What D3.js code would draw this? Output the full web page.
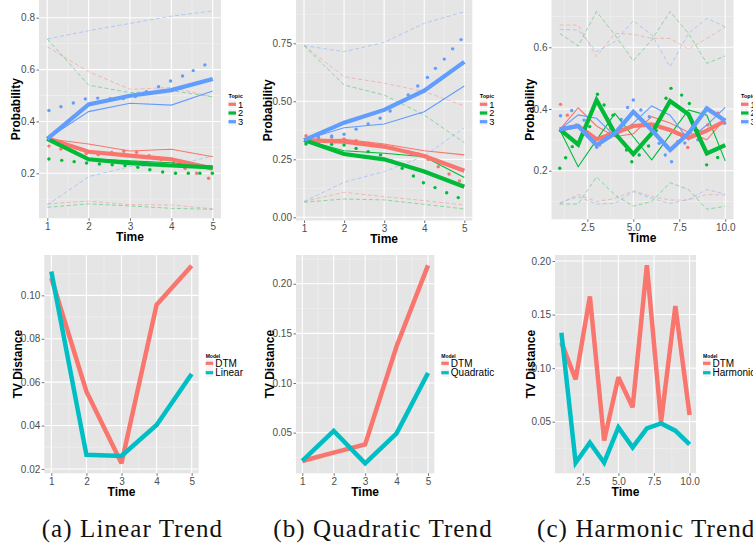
<!DOCTYPE html>
<html>
<head>
<meta charset="utf-8">
<script src="https://cdn.jsdelivr.net/npm/d3@7"></script>
<style>
  body { margin: 0; background: #fff; }
  svg { display: block; }
</style>
</head>
<body>
<script>
// ---------------- data ----------------
const topicLabels = ["1", "2", "3"];
const topicColors = ["#F8766D", "#00BA38", "#619CFF"];
const modelColors = ["#F8766D", "#00BFC4"];

// Linear trend: topic proportions over time (index 0..2 = topic 1..3)
const linearTime = [1, 2, 3, 4, 5];
const linearFit = [
  [0.335, 0.283, 0.268, 0.254, 0.218],
  [0.333, 0.254, 0.239, 0.230, 0.223],
  [0.333, 0.466, 0.499, 0.521, 0.564]
];
const linearDtm = [
  [0.333, 0.313, 0.286, 0.293, 0.264],
  [0.333, 0.256, 0.248, 0.241, 0.226],
  [0.333, 0.438, 0.470, 0.463, 0.517]
];
const linearUpper = [
  [0.688, 0.592, 0.524, 0.531, 0.495],
  [0.718, 0.540, 0.511, 0.519, 0.495],
  [0.718, 0.750, 0.778, 0.806, 0.826]
];
const linearLower = [
  [0.082, 0.093, 0.079, 0.078, 0.063],
  [0.069, 0.082, 0.074, 0.065, 0.061],
  [0.078, 0.187, 0.226, 0.228, 0.267]
];
const linearDotTime = [
  [1.04, 1.33, 1.65, 1.94, 2.23, 2.56, 2.85, 3.16, 3.46, 3.75, 4.05, 4.33, 4.61, 4.90],
  [1.04, 1.35, 1.65, 1.95, 2.26, 2.57, 2.88, 3.19, 3.48, 3.79, 4.10, 4.41, 4.69, 4.99],
  [1.04, 1.33, 1.63, 1.92, 2.22, 2.52, 2.84, 3.13, 3.40, 3.69, 3.98, 4.27, 4.53, 4.81]
];
const linearDotValue = [
  [0.305, 0.294, 0.284, 0.276, 0.272, 0.280, 0.285, 0.281, 0.268, 0.252, 0.240, 0.219, 0.200, 0.181],
  [0.255, 0.250, 0.245, 0.240, 0.236, 0.233, 0.230, 0.223, 0.214, 0.205, 0.200, 0.200, 0.200, 0.200],
  [0.442, 0.457, 0.471, 0.487, 0.490, 0.488, 0.488, 0.496, 0.515, 0.534, 0.556, 0.575, 0.596, 0.618]
];

// Quadratic trend
const quadTime = [1, 2, 3, 4, 5];
const quadFit = [
  [0.333, 0.326, 0.305, 0.264, 0.201],
  [0.333, 0.273, 0.250, 0.197, 0.132],
  [0.333, 0.408, 0.463, 0.546, 0.670]
];
const quadDtm = [
  [0.333, 0.336, 0.316, 0.287, 0.269],
  [0.333, 0.287, 0.276, 0.261, 0.172],
  [0.333, 0.386, 0.402, 0.455, 0.566]
];
const quadUpper = [
  [0.740, 0.606, 0.578, 0.542, 0.480],
  [0.740, 0.570, 0.527, 0.441, 0.322],
  [0.740, 0.714, 0.754, 0.836, 0.886]
];
const quadLower = [
  [0.068, 0.108, 0.089, 0.072, 0.053],
  [0.065, 0.079, 0.075, 0.056, 0.036],
  [0.068, 0.151, 0.197, 0.264, 0.386]
];
const quadDotTime = [
  [1.05, 1.36, 1.69, 2.00, 2.30, 2.60, 2.90, 3.20, 3.60, 3.85, 4.10, 4.35, 4.62, 4.88],
  [1.05, 1.36, 1.69, 2.00, 2.30, 2.60, 2.91, 3.19, 3.45, 3.73, 3.98, 4.27, 4.56, 4.85],
  [1.05, 1.36, 1.69, 2.00, 2.30, 2.60, 2.90, 3.15, 3.60, 3.84, 4.08, 4.28, 4.50, 4.71, 4.92]
];
const quadDotValue = [
  [0.352, 0.342, 0.345, 0.338, 0.330, 0.319, 0.310, 0.300, 0.283, 0.273, 0.250, 0.218, 0.187, 0.157],
  [0.316, 0.315, 0.315, 0.312, 0.297, 0.283, 0.269, 0.243, 0.211, 0.178, 0.149, 0.128, 0.106, 0.085],
  [0.335, 0.345, 0.351, 0.358, 0.380, 0.402, 0.427, 0.458, 0.527, 0.566, 0.603, 0.642, 0.682, 0.726, 0.766]
];

// Harmonic trend
const harmTime = [1, 2, 3, 4, 5, 6, 7, 8, 9, 10];
const harmFit = [
  [0.333, 0.345, 0.302, 0.322, 0.345, 0.350, 0.332, 0.306, 0.330, 0.362],
  [0.334, 0.285, 0.429, 0.321, 0.254, 0.321, 0.426, 0.383, 0.256, 0.283],
  [0.334, 0.345, 0.283, 0.321, 0.391, 0.332, 0.267, 0.321, 0.402, 0.362]
];
const harmDtm = [
  [0.333, 0.404, 0.345, 0.310, 0.320, 0.375, 0.355, 0.325, 0.300, 0.370],
  [0.333, 0.213, 0.300, 0.386, 0.310, 0.235, 0.316, 0.397, 0.380, 0.232],
  [0.333, 0.381, 0.370, 0.312, 0.354, 0.410, 0.380, 0.300, 0.348, 0.405]
];
const harmUpper = [
  [0.672, 0.672, 0.570, 0.645, 0.642, 0.629, 0.629, 0.594, 0.629, 0.665],
  [0.645, 0.604, 0.716, 0.640, 0.556, 0.624, 0.716, 0.645, 0.548, 0.572],
  [0.658, 0.656, 0.586, 0.618, 0.686, 0.640, 0.537, 0.645, 0.694, 0.667]
];
const harmLower = [
  [0.094, 0.123, 0.100, 0.110, 0.135, 0.116, 0.105, 0.105, 0.123, 0.121],
  [0.092, 0.092, 0.180, 0.121, 0.085, 0.100, 0.161, 0.139, 0.075, 0.085],
  [0.096, 0.116, 0.092, 0.094, 0.132, 0.110, 0.094, 0.107, 0.139, 0.124]
];
const harmDotTime = [
  [1.04, 1.41, 1.90, 2.32, 3.17, 3.77, 4.50, 5.50, 6.41, 7.41, 7.96, 8.51, 9.05, 9.60],
  [1.00, 1.32, 1.68, 2.63, 3.05, 3.41, 3.90, 4.63, 4.92, 5.32, 5.83, 6.25, 6.78, 7.05, 7.63, 8.05, 8.50, 8.99, 9.59],
  [1.04, 1.65, 2.32, 3.01, 3.65, 4.34, 4.69, 5.00, 5.41, 5.87, 6.41, 6.74, 7.08, 7.80, 8.51, 8.96, 9.96]
];
const harmDotValue = [
  [0.415, 0.380, 0.348, 0.318, 0.283, 0.337, 0.354, 0.364, 0.343, 0.294, 0.275, 0.326, 0.348, 0.386],
  [0.208, 0.242, 0.278, 0.343, 0.448, 0.413, 0.380, 0.267, 0.229, 0.251, 0.280, 0.330, 0.435, 0.467, 0.445, 0.418, 0.330, 0.219, 0.243],
  [0.378, 0.395, 0.364, 0.276, 0.321, 0.366, 0.405, 0.429, 0.397, 0.375, 0.289, 0.251, 0.229, 0.290, 0.300, 0.402, 0.354]
];

// TV distance to the true topic proportions
const tvLinearModels = ["DTM", "Linear"];
const tvLinear = [
  [0.108, 0.0557, 0.0226, 0.0957, 0.1137],
  [0.111, 0.0265, 0.0260, 0.0403, 0.0638]
];
const tvQuadModels = ["DTM", "Quadratic"];
const tvQuad = [
  [0.0214, 0.0298, 0.0382, 0.137, 0.2185],
  [0.0214, 0.0517, 0.0190, 0.0493, 0.110]
];
const tvHarmModels = ["DTM", "Harmonic"];
const tvHarm = [
  [0.1238, 0.0895, 0.167, 0.0323, 0.0914, 0.0634, 0.196, 0.050, 0.158, 0.0562],
  [0.133, 0.0117, 0.0304, 0.0117, 0.0447, 0.026, 0.0438, 0.0484, 0.0416, 0.0288]
];

const captions = ["(a) Linear Trend", "(b) Quadratic Trend", "(c) Harmonic Trend"];

// ---------------- drawing ----------------
const svg = d3.select("body").append("svg")
  .attr("width", 753).attr("height", 548)
  .style("font-family", "'Liberation Sans', Arial, Helvetica, sans-serif");

function mids(ticks) {
  const out = [];
  for (let i = 0; i < ticks.length - 1; i++) out.push((ticks[i] + ticks[i + 1]) / 2);
  return out;
}

function panel(s) {
  const x = d3.scaleLinear().domain(s.xDomain).range([s.left, s.right]);
  const y = d3.scaleLinear().domain(s.yDomain).range([s.bottom, s.top]);
  const g = svg.append("g");
  g.append("rect")
    .attr("x", s.left).attr("y", s.top)
    .attr("width", s.right - s.left).attr("height", s.bottom - s.top)
    .attr("fill", "#E5E5E5");

  const inX = v => v >= s.xDomain[0] && v <= s.xDomain[1];
  const inY = v => v >= s.yDomain[0] && v <= s.yDomain[1];
  const step = a => a[1] - a[0];
  const xMinor = mids([s.xTicks[0] - step(s.xTicks), ...s.xTicks, s.xTicks[s.xTicks.length - 1] + step(s.xTicks)]).filter(inX);
  const yMinor = mids([s.yTicks[0] - step(s.yTicks), ...s.yTicks, s.yTicks[s.yTicks.length - 1] + step(s.yTicks)]).filter(inY);

  const grid = g.append("g");
  grid.selectAll(".vmin").data(xMinor).join("line")
    .attr("x1", d => x(d)).attr("x2", d => x(d)).attr("y1", s.top).attr("y2", s.bottom)
    .attr("stroke", "#F2F2F2").attr("stroke-width", 0.6);
  grid.selectAll(".hmin").data(yMinor).join("line")
    .attr("y1", d => y(d)).attr("y2", d => y(d)).attr("x1", s.left).attr("x2", s.right)
    .attr("stroke", "#F2F2F2").attr("stroke-width", 0.6);
  grid.selectAll(".vmaj").data(s.xTicks).join("line")
    .attr("x1", d => x(d)).attr("x2", d => x(d)).attr("y1", s.top).attr("y2", s.bottom)
    .attr("stroke", "#fff").attr("stroke-width", 1.1);
  grid.selectAll(".hmaj").data(s.yTicks).join("line")
    .attr("y1", d => y(d)).attr("y2", d => y(d)).attr("x1", s.left).attr("x2", s.right)
    .attr("stroke", "#fff").attr("stroke-width", 1.1);

  const styleAxis = sel => {
    sel.select(".domain").remove();
    sel.selectAll(".tick line").attr("stroke", "#333").attr("stroke-width", 0.7);
    sel.selectAll(".tick text").attr("fill", "#4D4D4D").attr("font-size", 10)
      .attr("font-family", "'Liberation Sans', Arial, sans-serif");
  };
  g.append("g").attr("transform", `translate(0,${s.bottom})`)
    .call(d3.axisBottom(x).tickValues(s.xTicks).tickSize(2.5).tickPadding(1.8).tickFormat(s.xFormat))
    .call(styleAxis);
  g.append("g").attr("transform", `translate(${s.left},0)`)
    .call(d3.axisLeft(y).tickValues(s.yTicks).tickSize(2.5).tickPadding(1.5).tickFormat(s.yFormat))
    .call(styleAxis);

  g.append("text")
    .attr("x", (s.left + s.right) / 2).attr("y", s.bottom + 22.8)
    .attr("text-anchor", "middle").attr("font-weight", "bold").attr("font-size", 12)
    .text("Time");
  g.append("text")
    .attr("transform", `translate(${s.yTitleX},${(s.top + s.bottom) / 2}) rotate(-90)`)
    .attr("text-anchor", "middle").attr("font-weight", "bold").attr("font-size", 12)
    .text(s.yTitle);

  return { g, x, y };
}

function legend(gx, titleY, firstY, gap, title, labels, colors, titleSize, labelSize) {
  const g = svg.append("g").attr("transform", `translate(${gx},0)`);
  g.append("text").attr("x", 0).attr("y", titleY)
    .attr("font-size", titleSize).attr("font-weight", "bold").attr("fill", "#000")
    .text(title);
  labels.forEach((lab, i) => {
    const cy = firstY + i * gap;
    g.append("rect").attr("x", 0).attr("y", cy - gap / 2 + 0.5).attr("width", 7.5).attr("height", gap - 1)
      .attr("fill", "#F2F2F2");
    g.append("line").attr("x1", 0).attr("x2", 7.5).attr("y1", cy).attr("y2", cy)
      .attr("stroke", colors[i]).attr("stroke-width", 3.2);
    g.append("text").attr("x", 9.5).attr("y", cy + labelSize * 0.36)
      .attr("font-size", labelSize).attr("fill", "#000").text(lab);
  });
}

function topicPanel(s, time, fit, dtm, upper, lower, dotT, dotV) {
  const { g, x, y } = panel(s);
  const line = d3.line().x(d => x(d[0])).y(d => y(d[1]));
  const pairs = vals => time.map((t, i) => [t, vals[i]]);
  const marks = g.append("g");

  [upper, lower].forEach(band => {
    band.forEach((vals, k) => {
      marks.append("path").datum(pairs(vals)).attr("d", line)
        .attr("fill", "none").attr("stroke", topicColors[k]).attr("stroke-opacity", 0.45)
        .attr("stroke-width", 0.9).attr("stroke-dasharray", "4,2.5");
    });
  });
  dotT.forEach((ts, k) => {
    marks.append("g").selectAll("circle").data(ts.map((t, i) => [t, dotV[k][i]])).join("circle")
      .attr("cx", d => x(d[0])).attr("cy", d => y(d[1])).attr("r", 1.7)
      .attr("fill", topicColors[k]);
  });
  dtm.forEach((vals, k) => {
    marks.append("path").datum(pairs(vals)).attr("d", line)
      .attr("fill", "none").attr("stroke", topicColors[k]).attr("stroke-width", 1.1);
  });
  fit.forEach((vals, k) => {
    marks.append("path").datum(pairs(vals)).attr("d", line)
      .attr("fill", "none").attr("stroke", topicColors[k]).attr("stroke-width", 4.2)
      .attr("stroke-linejoin", "miter").attr("stroke-linecap", "butt");
  });
  legend(s.right + 7.5, 97.6, 104.3, 8.7, "Topic", topicLabels, topicColors, 5.5, 9.3);
}

function tvPanel(s, time, series, names) {
  const { g, x, y } = panel(s);
  const line = d3.line().x(d => x(d[0])).y(d => y(d[1]));
  series.forEach((vals, k) => {
    g.append("path").datum(time.map((t, i) => [t, vals[i]])).attr("d", line)
      .attr("fill", "none").attr("stroke", modelColors[k]).attr("stroke-width", 4.5)
      .attr("stroke-linejoin", "miter").attr("stroke-miterlimit", 3).attr("stroke-linecap", "butt");
  });
  legend(s.right + 7, 357.8, 363.3, 9.4, "Model", names, modelColors, 5, 10);
}

const f1 = d3.format(".1f"), f2 = d3.format(".2f"), fi = d3.format("d");

// top row
topicPanel({
  left: 39, right: 221, top: 0, bottom: 218.3,
  xDomain: [0.8, 5.2], yDomain: [0.0265, 0.8683],
  xTicks: [1, 2, 3, 4, 5], yTicks: [0.2, 0.4, 0.6, 0.8],
  xFormat: fi, yFormat: f1, yTitle: "Probability", yTitleX: 19.5
}, linearTime, linearFit, linearDtm, linearUpper, linearLower, linearDotTime, linearDotValue);

topicPanel({
  left: 296, right: 472.3, top: 0, bottom: 220.5,
  xDomain: [0.8, 5.2], yDomain: [-0.0137, 0.9366],
  xTicks: [1, 2, 3, 4, 5], yTicks: [0, 0.25, 0.5, 0.75],
  xFormat: fi, yFormat: f2, yTitle: "Probability", yTitleX: 272
}, quadTime, quadFit, quadDtm, quadUpper, quadLower, quadDotTime, quadDotValue);

topicPanel({
  left: 551.5, right: 733.5, top: 0, bottom: 219.3,
  xDomain: [0.55, 10.45], yDomain: [0.0425, 0.7533],
  xTicks: [2.5, 5, 7.5, 10], yTicks: [0.2, 0.4, 0.6],
  xFormat: f1, yFormat: f1, yTitle: "Probability", yTitleX: 534
}, harmTime, harmFit, harmDtm, harmUpper, harmLower, harmDotTime, harmDotValue);

// bottom row
tvPanel({
  left: 44.3, right: 198.7, top: 255, bottom: 473.3,
  xDomain: [0.8, 5.2], yDomain: [0.018, 0.1186],
  xTicks: [1, 2, 3, 4, 5], yTicks: [0.02, 0.04, 0.06, 0.08, 0.10],
  xFormat: fi, yFormat: f2, yTitle: "TV Distance", yTitleX: 21.5
}, linearTime, tvLinear, tvLinearModels);

tvPanel({
  left: 296, right: 434.3, top: 255, bottom: 473.3,
  xDomain: [0.8, 5.2], yDomain: [0.009, 0.229],
  xTicks: [1, 2, 3, 4, 5], yTicks: [0.05, 0.10, 0.15, 0.20],
  xFormat: fi, yFormat: f2, yTitle: "TV Distance", yTitleX: 273.5
}, quadTime, tvQuad, tvQuadModels);

tvPanel({
  left: 555, right: 696, top: 255, bottom: 473.3,
  xDomain: [0.55, 10.45], yDomain: [0.0018, 0.2056],
  xTicks: [2.5, 5, 7.5, 10], yTicks: [0.05, 0.10, 0.15, 0.20],
  xFormat: f1, yFormat: f2, yTitle: "TV Distance", yTitleX: 534.5
}, harmTime, tvHarm, tvHarmModels);

// sub-figure captions
const captionX = [41.7, 273.3, 537];
svg.selectAll(".caption").data(captions).join("text")
  .attr("class", "caption")
  .attr("x", (d, i) => captionX[i]).attr("y", 536.7)
  .attr("font-family", "'Liberation Serif', 'Times New Roman', serif")
  .attr("font-size", 25).attr("letter-spacing", 1.1).attr("fill", "#111")
  .text(d => d);
</script>
</body>
</html>
